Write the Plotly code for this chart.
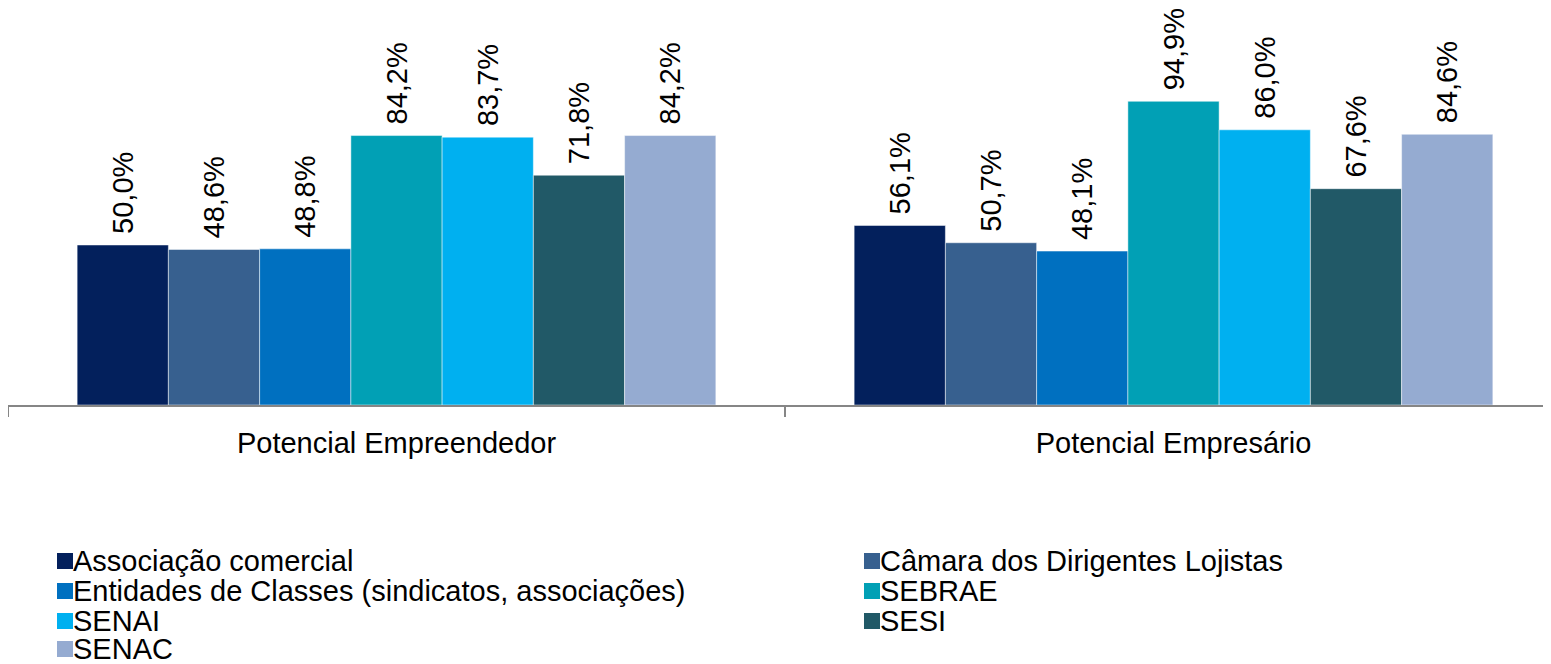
import plotly.graph_objects as go

categories = ["Potencial Empreendedor", "Potencial Empresário"]
series_names = [
    "Associação comercial",
    "Câmara dos Dirigentes Lojistas",
    "Entidades de Classes (sindicatos, associações)",
    "SEBRAE",
    "SENAI",
    "SESI",
    "SENAC",
]
values_empreendedor = [50.0, 48.6, 48.8, 84.2, 83.7, 71.8, 84.2]
values_empresario = [56.1, 50.7, 48.1, 94.9, 86.0, 67.6, 84.6]
colors = ["#03205C", "#37608F", "#0070C0", "#01A0B5", "#00B0F0", "#215967", "#95ABD1"]

# page body has an 8px margin, so the figure starts at (8, 8) in the window
OFF = 8
W, H = 1551 - OFF, 664 - OFF
ML, MR, MT, MB = 0, 0, 0, 259
PW = W - ML - MR
PH = H - MT - MB
cat_px = 777.0  # pixels per category
FONT = "Liberation Sans, Arial, sans-serif"
FS = 29

fig = go.Figure()
xpos = list(range(len(categories)))
for i, name in enumerate(series_names):
    vals = [values_empreendedor[i], values_empresario[i]]
    fig.add_trace(go.Bar(
        x=xpos, y=vals, name=name,
        marker=dict(color=colors[i], line=dict(color="rgba(255,255,255,0.6)", width=0.8)),
        texttemplate="\u00a0%{y:.1f}%", textposition="outside", textangle=-90,
        textfont=dict(family=FONT, size=FS, color="#000000"),
        cliponaxis=False, constraintext="none", showlegend=False,
    ))

# custom legend (two columns), built from series names/colours
def px_to_paper_x(px):
    return (px - OFF - ML) / PW

def px_to_paper_y(py):
    return (MT + PH - (py - OFF)) / PH

col_x = [57, 864]
row_y = [561, 591, 621, 649]
for i, name in enumerate(series_names):
    r, c = divmod(i, 2)
    x0 = col_x[c]
    yc = row_y[r]
    fig.add_shape(type="rect", xref="paper", yref="paper",
                  x0=px_to_paper_x(x0), x1=px_to_paper_x(x0 + 16),
                  y0=px_to_paper_y(yc + 8), y1=px_to_paper_y(yc - 8),
                  fillcolor=colors[i], line=dict(width=0))
    fig.add_annotation(xref="paper", yref="paper",
                       x=px_to_paper_x(x0 + 15), y=px_to_paper_y(yc),
                       text=name, showarrow=False, xanchor="left", yanchor="middle",
                       borderpad=0,
                       font=dict(family=FONT, size=FS, color="#000000"))

fig.update_layout(
    width=W, height=H,
    margin=dict(l=ML, r=MR, t=MT, b=MB, pad=0),
    paper_bgcolor="white", plot_bgcolor="white",
    barmode="group", bargap=0.178, bargroupgap=0,
    separators=",.",
    font=dict(family=FONT, size=FS, color="#000000"),
    xaxis=dict(
        range=[-0.5, -0.5 + PW / cat_px],
        tickmode="array", tickvals=xpos, ticktext=categories,
        ticks="", showgrid=False, zeroline=False,
        showline=True, linecolor="#868686", linewidth=1.5,
        tickfont=dict(family=FONT, size=FS, color="#000000"),
        ticklabelstandoff=11,
        minor=dict(tickmode="array", tickvals=[-0.5, 0.5, 1.5], ticks="outside",
                   ticklen=10, tickcolor="#868686", tickwidth=1.5, showgrid=False),
    ),
    yaxis=dict(range=[0, PH / 3.2], visible=False, showgrid=False, zeroline=False),
)

fig.write_html("out.html")
